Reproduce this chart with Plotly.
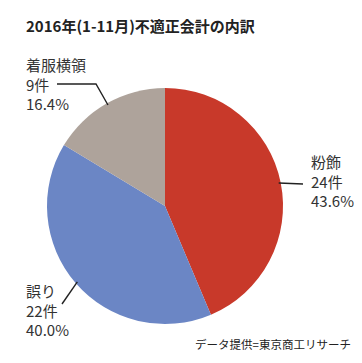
import math
import plotly.graph_objects as go

# ---- data ----
categories = ["粉飾", "誤り", "着服横領"]
counts = [24, 22, 9]
percents = ["43.6%", "40.0%", "16.4%"]
colors = ["#C8392A", "#6B86C5", "#AEA39B"]
title_text = "2016年(1-11月)不適正会計の内訳"
source_text = "データ提供=東京商工リサーチ"

W, H = 362, 363
FONT = "Noto Sans CJK JP, Noto Sans, sans-serif"
DY = -7

def px(x):
    return x / W

def py(y):
    return 1 - (y + DY) / H

# pie geometry in pixels
cx, cy, r = 157, 205, 118

fig = go.Figure()
fig.add_trace(go.Pie(
    labels=categories, values=counts, sort=False, direction="clockwise",
    rotation=0, marker=dict(colors=colors, line=dict(width=0)),
    textinfo="none", hoverinfo="label+value+percent", showlegend=False,
    domain=dict(x=[px(cx - r), px(cx + r)], y=[py(cy + r), py(cy - r)]),
))

label_pos = {
    "粉飾": dict(x=301, y=181, elbow=None, end=(295, 183)),
    "誤り": dict(x=16, y=310, elbow=None, end=(54, 303)),
    "着服横領": dict(x=16, y=84, elbow=(88, 83), end=(49, 83)),
}

total = sum(counts)
cum = 0
annotations = []
shapes = []
for cat, cnt, pct in zip(categories, counts, percents):
    mid = (cum + cnt / 2) / total * 2 * math.pi
    cum += cnt
    ex = cx + (r - 2) * math.sin(mid)
    ey = cy - (r - 2) * math.cos(mid)
    lp = label_pos[cat]
    annotations.append(dict(
        x=px(lp["x"]), y=py(lp["y"] - 1), xref="paper", yref="paper",
        xanchor="left", yanchor="middle", align="left", showarrow=False,
        text=f"{cat}<br>{cnt}件<br>{pct}",
        font=dict(family=FONT, size=15, color="#333333"),
    ))
    pts = [(ex, ey)]
    if lp["elbow"]:
        pts.append(lp["elbow"])
    pts.append(lp["end"])
    path = "M " + " L ".join(f"{px(a)},{py(b)}" for a, b in pts)
    shapes.append(dict(type="path", xref="paper", yref="paper", path=path,
                       line=dict(color="#222222", width=1.4)))

annotations.append(dict(
    x=px(16), y=py(24), xref="paper", yref="paper", xanchor="left",
    yanchor="middle", showarrow=False, text=f"<b>{title_text}</b>",
    font=dict(family=FONT, size=15, color="#222222"),
))
annotations.append(dict(
    x=px(345), y=py(343), xref="paper", yref="paper", xanchor="right",
    yanchor="middle", showarrow=False, text=source_text,
    font=dict(family=FONT, size=11.5, color="#222222"),
))

fig.update_layout(
    width=W, height=H, margin=dict(l=0, r=0, t=0, b=0),
    paper_bgcolor="white", plot_bgcolor="white",
    annotations=annotations, shapes=shapes,
)
fig.write_html("out.html")
